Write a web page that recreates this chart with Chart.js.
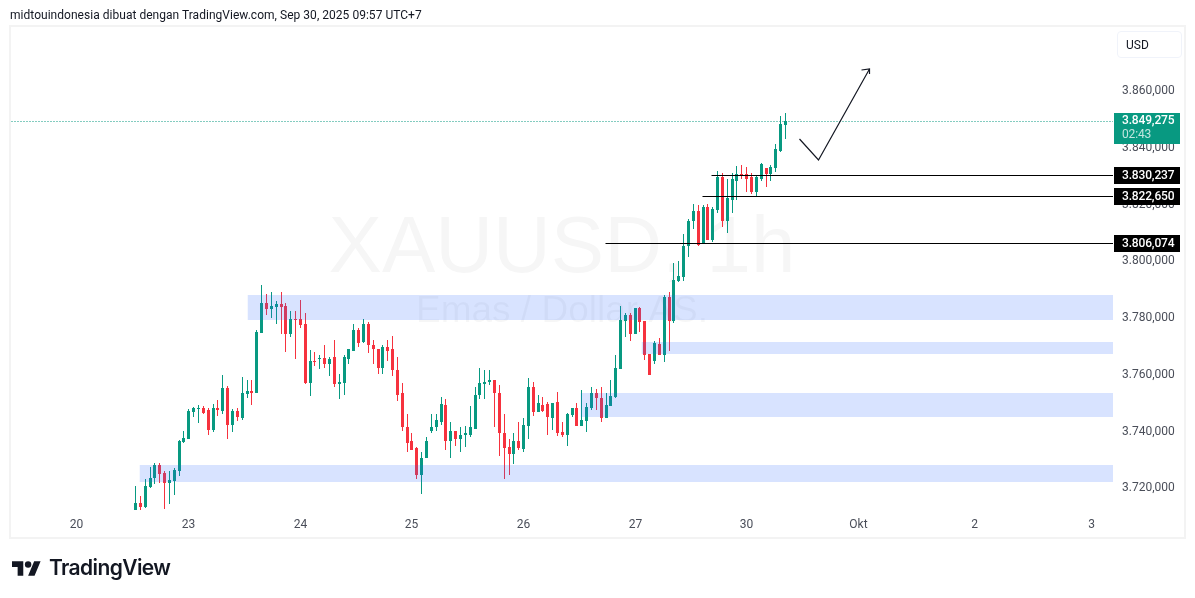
<!DOCTYPE html>
<html>
<head>
<meta charset="utf-8">
<title>XAUUSD 1h</title>
<script src="https://cdn.jsdelivr.net/npm/chart.js@4"></script>
<style>
html, body { margin: 0; padding: 0; background: #fff; }
#wrap { position: relative; width: 1195px; height: 598px; overflow: hidden; font-family: Roboto, sans-serif; color: #131722; }
#chart { position: absolute; left: 0; top: 0; }
#head { position: absolute; left: 10px; top: 7px; font-size: 12px; line-height: 16px; letter-spacing: 0.03px; white-space: nowrap; }
#frame { position: absolute; left: 9px; top: 25px; width: 1173px; height: 510px; border: 2px solid #f3f3f3; pointer-events: none; }
#usd { position: absolute; left: 1117px; top: 31px; width: 63px; height: 25px; border: 1px solid #f0f3fa; border-radius: 4px; font-size: 12px; line-height: 26px; text-indent: 8px; }
#logo { position: absolute; left: 12px; top: 560px; width: 29px; height: 17px; }
#brand { position: absolute; left: 49px; top: 555px; font: 600 21px/26px Inter, sans-serif; letter-spacing: -0.6px; color: #131722; }
</style>
</head>
<body>
<div id="wrap">
  <canvas id="chart" width="1195" height="598"></canvas>
  <div id="frame"></div>
  <div id="head">midtouindonesia dibuat dengan TradingView.com, Sep 30, 2025 09:57 UTC+7</div>
  <div id="usd">USD</div>
  <svg id="logo" viewBox="0 4 36 18"><path fill="#131722" d="M14 22H7V11H0V4h14v18zM28 22h-8l7.5-18h8L28 22z"/><circle fill="#131722" cx="20" cy="8" r="4"/></svg>
  <div id="brand">TradingView</div>
</div>
<script>
// hourly candles
var opens = [3712.1,3714.6,3713.2,3720.3,3723.4,3728.0,3725.2,3721.7,3722.4,3725.9,
  3736.1,3737.2,3746.7,3747.7,3748.1,3747.4,3740.3,3748.1,3747.0,3755.1,
  3742.1,3747.0,3744.6,3753.0,3754.1,3753.4,3774.5,3785.1,3783.0,3783.7,
  3784.7,3784.0,3774.2,3779.5,3779.5,3777.7,3756.9,3764.7,3765.4,3765.7,
  3763.6,3765.8,3756.6,3756.9,3765.4,3768.2,3775.3,3771.4,3777.7,3770.3,
  3768.9,3762.2,3769.3,3768.6,3761.5,3753.1,3741.4,3736.2,3733.7,3724.5,
  3730.2,3739.7,3741.1,3743.2,3749.2,3736.2,3740.0,3736.9,3738.3,3738.6,
  3740.7,3752.4,3756.6,3757.3,3757.7,3753.4,3739.3,3734.4,3731.6,3736.5,
  3733.6,3741.7,3755.5,3746.7,3749.1,3749.5,3744.6,3750.2,3739.6,3738.6,
  3745.6,3748.1,3741.7,3743.5,3748.1,3753.4,3751.6,3744.6,3748.8,3752.0,
  3761.8,3778.8,3780.9,3774.2,3783.3,3778.8,3767.1,3764.7,3770.6,3766.8,
  3787.2,3778.8,3792.9,3794.2,3804.9,3813.7,3817.5,3806.2,3818.9,3807.3,
  3817.9,3829.2,3813.7,3821.1,3828.1,3830.6,3830.6,3829.2,3824.2,3828.8,
  3832.7,3830.6,3832.7,3838.7,3847.8];
var highs = [3720.6,3717.1,3723.1,3727.3,3728.7,3728.7,3725.9,3725.9,3726.9,3736.8,
  3740.0,3747.7,3748.4,3749.1,3748.8,3748.1,3749.5,3750.9,3759.7,3755.8,
  3747.7,3748.1,3759.0,3758.0,3758.0,3775.6,3791.4,3788.3,3789.0,3785.8,
  3789.0,3785.1,3782.3,3782.3,3786.2,3781.6,3768.5,3767.8,3766.8,3770.3,
  3765.8,3772.1,3759.8,3766.8,3768.6,3777.4,3776.3,3779.5,3778.1,3772.1,
  3768.9,3770.0,3772.1,3773.2,3765.8,3756.9,3745.7,3739.3,3734.4,3732.3,
  3737.9,3745.7,3746.0,3752.0,3751.0,3742.9,3740.0,3741.1,3741.8,3748.5,
  3755.5,3761.9,3761.5,3761.2,3758.0,3756.2,3746.0,3736.9,3739.3,3743.2,
  3744.6,3758.7,3757.3,3752.7,3752.0,3750.2,3749.9,3753.7,3743.2,3746.3,
  3748.1,3749.9,3754.4,3749.9,3755.5,3754.8,3755.5,3753.4,3758.0,3766.8,
  3784.0,3781.6,3781.6,3783.3,3783.7,3778.8,3767.1,3771.7,3772.8,3787.9,
  3789.0,3798.9,3799.6,3809.4,3814.7,3820.0,3819.6,3819.6,3820.0,3818.9,
  3831.6,3830.9,3828.5,3830.9,3833.4,3833.7,3833.0,3830.9,3829.9,3834.4,
  3832.7,3833.7,3841.1,3851.0,3852.1];
var lows = [3712.1,3712.1,3712.9,3719.9,3721.3,3721.7,3712.5,3714.3,3717.4,3724.1,
  3735.8,3737.2,3744.9,3742.8,3746.0,3738.6,3739.6,3745.3,3746.0,3737.2,
  3739.6,3743.5,3743.9,3751.6,3749.1,3753.4,3774.5,3780.9,3779.8,3777.7,
  3774.2,3767.8,3773.1,3765.4,3776.3,3756.5,3752.3,3762.9,3761.8,3762.2,
  3759.4,3755.5,3751.0,3752.7,3763.6,3768.2,3769.6,3771.0,3767.5,3763.6,
  3760.1,3760.1,3764.4,3759.4,3750.3,3740.0,3732.6,3733.0,3723.1,3717.8,
  3730.2,3739.3,3739.7,3742.1,3733.3,3730.2,3734.7,3732.3,3734.4,3737.9,
  3740.4,3751.3,3751.0,3755.9,3741.4,3731.2,3722.8,3724.2,3728.4,3733.0,
  3732.6,3737.2,3745.3,3746.7,3746.7,3738.6,3740.3,3738.2,3737.9,3734.7,
  3744.9,3741.7,3741.7,3739.6,3747.4,3747.4,3743.2,3744.6,3748.8,3751.6,
  3761.8,3773.1,3771.7,3774.2,3774.9,3765.0,3759.7,3763.6,3766.8,3764.3,
  3768.2,3778.0,3792.5,3792.9,3801.3,3811.2,3805.2,3806.2,3807.3,3806.6,
  3816.8,3811.9,3809.8,3816.8,3821.1,3828.5,3824.2,3823.5,3822.8,3828.1,
  3826.0,3828.1,3831.3,3838.3,3842.9];
var closes = [3714.6,3713.2,3720.6,3723.4,3728.0,3724.8,3721.7,3722.7,3726.2,3736.5,
  3737.5,3747.0,3748.1,3748.1,3746.3,3740.3,3748.1,3747.4,3755.1,3742.1,
  3747.0,3744.9,3753.4,3754.1,3753.4,3774.9,3785.1,3783.0,3784.0,3784.7,
  3783.7,3774.2,3779.5,3779.1,3777.3,3756.9,3764.7,3764.3,3765.7,3763.6,
  3765.4,3756.6,3757.3,3765.8,3768.6,3775.3,3771.0,3777.7,3770.0,3768.6,
  3762.2,3769.3,3768.2,3761.2,3752.7,3741.1,3735.8,3733.3,3724.2,3730.5,
  3736.5,3741.4,3743.6,3749.5,3736.2,3740.0,3736.9,3738.6,3739.0,3741.4,
  3752.7,3756.9,3757.3,3757.7,3753.1,3739.0,3734.0,3731.6,3736.5,3733.7,
  3742.1,3755.5,3746.7,3749.9,3747.0,3744.9,3749.9,3739.3,3738.6,3746.0,
  3748.1,3741.7,3743.9,3748.4,3753.4,3751.6,3744.6,3749.1,3752.3,3762.2,
  3779.1,3780.9,3774.2,3783.3,3778.4,3766.8,3759.7,3771.0,3766.8,3787.2,
  3778.8,3793.2,3794.6,3805.2,3813.7,3817.5,3805.5,3818.9,3807.3,3818.2,
  3829.2,3813.7,3821.8,3828.5,3830.6,3830.2,3828.8,3824.2,3829.2,3834.1,
  3830.6,3833.0,3839.4,3848.2,3849.275];

// time axis, positions in candle numbers
var xTickPos = [-12.2, 11, 34, 57, 80, 103, 126, 149, 173, 197];
var xTickLabels = ['20', '23', '24', '25', '26', '27', '30', 'Okt', '2', '3'];

// price axis
var yTicks = [3720, 3740, 3760, 3780, 3800, 3820, 3840, 3860];
var yTickLabels = ['3.720,000', '3.740,000', '3.760,000', '3.780,000', '3.800,000', '3.820,000', '3.840,000', '3.860,000'];

// drawn zones
var zoneStart = [23, 104.3, 91.8, 0.9];
var zoneTop = [3787.9, 3771.4, 3753.4, 3728.0];
var zoneBottom = [3779.1, 3767.1, 3744.9, 3722.0];

// drawn horizontal lines and their tags
var levelPrices = [3830.237, 3822.65, 3806.074];
var levelStart = [118.7, 116.8, 96.8];
var levelLabels = ['3.830,237', '3.822,650', '3.806,074'];

var lastPrice = 3849.275;
var lastLabel = '3.849,275';
var countdown = '02:43';

// hand drawn arrow
var arrowX = [136.8, 140.9, 151.3];
var arrowY = [3842.9, 3835.2, 3867.6];
var headX = [149.6, 151.3, 151.4];
var headY = [3867.0, 3867.6, 3865.5];

var xMin = -25.66;
var xMax = 201.51;
var GREEN = '#089981';
var RED = '#f6323e';

function pairs(xs, ys) {
    var out = [];
    for (var i = 0; i < xs.length; i++) out.push({ x: xs[i], y: ys[i] });
    return out;
}

var candleColors = [];
var wickData = [];
var bodyData = [];
for (var i = 0; i < opens.length; i++) {
    candleColors.push(closes[i] >= opens[i] ? GREEN : RED);
    wickData.push({ x: i, y: [lows[i], highs[i]] });
    bodyData.push({ x: i, y: [opens[i], closes[i]] });
}

function lineSet(points, color, extra) {
    return Object.assign({
        type: 'line', data: points, borderColor: color, borderWidth: 1,
        pointRadius: 0, tension: 0, fill: false, order: 1, crisp: true
    }, extra || {});
}

var datasets = [
    { data: wickData, backgroundColor: candleColors, barThickness: 1, grouped: false, inflateAmount: 0, borderWidth: 0, order: 5 },
    { data: bodyData, backgroundColor: candleColors, barThickness: 3, grouped: false, inflateAmount: 0, borderWidth: 0, order: 4 }
];
for (var z = 0; z < zoneStart.length; z++) {
    datasets.push({
        type: 'line', data: pairs([zoneStart[z], xMax], [zoneTop[z], zoneTop[z]]),
        borderWidth: 0, pointRadius: 0, backgroundColor: 'rgba(41,98,255,0.18)',
        fill: { value: zoneBottom[z] }, order: 3
    });
}
for (var l = 0; l < levelPrices.length; l++) {
    datasets.push(lineSet(pairs([levelStart[l], xMax], [levelPrices[l], levelPrices[l]]), '#000000'));
}
datasets.push(lineSet(pairs([xMin, xMax], [lastPrice, lastPrice]), GREEN, { borderDash: [1, 2], order: 2 }));
datasets.push(lineSet(pairs(arrowX, arrowY), '#131722', { crisp: false, borderWidth: 1.2 }));
datasets.push(lineSet(pairs(headX, headY), '#131722', { crisp: false, borderWidth: 1.2 }));

// snap candles to whole pixels, the way the original chart does
var snapScales = {
    id: 'snapScales',
    beforeDatasetsUpdate: function (chart) {
        var xs = chart.scales.x, ys = chart.scales.y;
        if (xs.snapped) return;
        var gx = xs.getPixelForValue.bind(xs), gy = ys.getPixelForValue.bind(ys);
        xs.getPixelForValue = function (v) { return Math.round(gx(v) - 0.5) + 0.5; };
        ys.getPixelForValue = function (v) { return Math.round(gy(v)); };
        xs.snapped = true;
    },
    beforeDatasetDraw: function (chart, args) {
        if (chart.data.datasets[args.index].crisp) { chart.ctx.save(); chart.ctx.translate(0, 0.5); }
    },
    afterDatasetDraw: function (chart, args) {
        if (chart.data.datasets[args.index].crisp) chart.ctx.restore();
    }
};

var watermark = {
    id: 'watermark',
    beforeDatasetsDraw: function (chart) {
        var ctx = chart.ctx;
        ctx.save();
        ctx.textAlign = 'center';
        ctx.textBaseline = 'alphabetic';
        ctx.fillStyle = 'rgba(19,23,34,0.04)';
        ctx.font = '80px "Liberation Sans"';
        ctx.fillText('XAUUSD, 1h', 562, 272);
        ctx.font = '37px "Liberation Sans"';
        ctx.fillText('Emas / Dollar AS.', 562, 322);
        ctx.restore();
    }
};

var priceTags = {
    id: 'priceTags',
    afterDraw: function (chart) {
        var ctx = chart.ctx, y = chart.scales.y, left = 1114, w = 66;
        ctx.save();
        ctx.textAlign = 'left';
        ctx.textBaseline = 'middle';
        ctx.font = '500 12px Roboto';
        ctx.letterSpacing = '-0.15px';
        for (var i = 0; i < levelPrices.length; i++) {
            var py = y.getPixelForValue(levelPrices[i]);
            ctx.fillStyle = '#000000';
            ctx.fillRect(left, py - 8, w, 17);
            ctx.fillStyle = '#ffffff';
            ctx.fillText(levelLabels[i], left + 8, py + 0.5);
        }
        var ly = y.getPixelForValue(lastPrice);
        ctx.fillStyle = GREEN;
        ctx.fillRect(left, ly - 8, w, 31);
        ctx.fillStyle = '#ffffff';
        ctx.fillText(lastLabel, left + 8, ly - 0.5);
        ctx.fillStyle = 'rgba(255,255,255,0.75)';
        ctx.font = '12px Roboto';
        ctx.fillText(countdown, left + 8, ly + 14);
        ctx.restore();
    }
};

new Chart(document.getElementById('chart'), {
    type: 'bar',
    data: { datasets: datasets },
    plugins: [snapScales, watermark, priceTags],
    options: {
        responsive: false,
        animation: false,
        layout: { padding: { left: 11, top: 26, right: 10, bottom: 60 } },
        plugins: { legend: { display: false }, tooltip: { enabled: false } },
        scales: {
            x: {
                type: 'linear', min: xMin, max: xMax, offset: false,
                grid: { display: false, drawTicks: false }, border: { display: false },
                afterFit: function (s) { s.height = 27; },
                afterBuildTicks: function (s) { s.ticks = xTickPos.map(function (v) { return { value: v }; }); },
                ticks: {
                    autoSkip: false, maxRotation: 0, padding: 7, color: '#4a4e59',
                    font: { family: 'Roboto', size: 12 },
                    callback: function (v) { return xTickLabels[xTickPos.indexOf(v)]; }
                }
            },
            y: {
                type: 'linear', position: 'right', min: 3711.67, max: 3882.59,
                grid: { display: false, drawTicks: false }, border: { display: false },
                afterFit: function (s) { s.width = 72; },
                afterBuildTicks: function (s) { s.ticks = yTicks.map(function (v) { return { value: v }; }); },
                ticks: {
                    autoSkip: false, padding: 9, labelOffset: 0.5, color: '#4a4e59',
                    font: { family: 'Roboto', size: 12 },
                    callback: function (v) { return yTickLabels[yTicks.indexOf(v)]; }
                }
            }
        }
    }
});
</script>
</body>
</html>
